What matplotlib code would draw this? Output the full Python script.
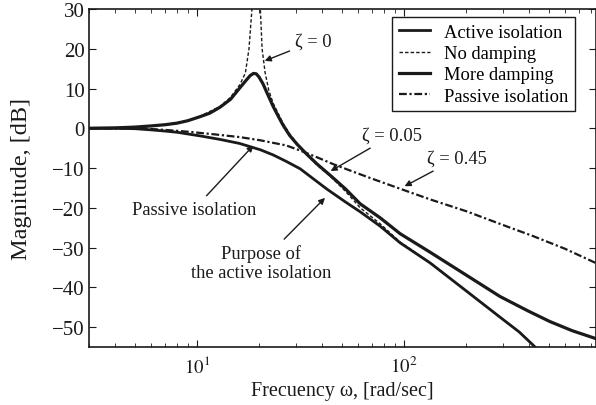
#!/usr/bin/env python3
"""
Vibration isolation transmissibility - magnitude vs frequency
"""

import matplotlib
matplotlib.use('Agg')
import matplotlib.pyplot as plt
from matplotlib.ticker import FixedLocator, NullFormatter

# Values (rad/sec, dB)
freq_active = [3, 4, 5, 6, 7, 8, 9.2, 10.3, 12.9, 16.0, 20.2, 23.3, 26.9, 31.5, 36, 42.4, 52, 61.4,
               76.6, 95.7, 134, 201, 291, 360, 420, 450]
mag_active = [0, 0, -0.1, -0.4, -0.7, -1.0, -1.5, -1.9, -2.8, -3.8, -5.4, -6.7, -8.3, -10.2, -12.5, -15.3,
              -18.5, -21.0, -24.6, -28.8, -33.9, -41.0, -47.5, -51.2, -54.5, -56.0]

freq_nodamp = [3, 5, 7, 9, 10.3, 12.9, 14.5, 16.1, 17.1, 17.8, 18.4, 19.1, 20.2, 20.6, 21.3, 22.2, 23.3,
               24.5, 26.0, 28.0, 30.4, 34, 38.0, 43.9, 52, 61.4, 76.6, 95.7, 134, 201, 291, 360, 420, 450]
mag_nodamp = [0, 0.3, 0.9, 1.9, 3.0, 5.5, 7.8, 11.0, 13.9, 20.0, 30.0, 45.0, 30.0, 20.0, 14.0, 9.5, 6.3,
              4.0, 1.3, -1.4, -3.8, -6.6, -9.3, -12.0, -15.8, -20.0, -24.0, -28.6, -33.8, -41.0, -47.5, -51.2,
              -54.5, -56.0]

freq_z005 = [3, 4, 5, 6, 7, 8, 9, 10.3, 11.5, 12.9, 14.5, 16.1, 17.2, 18.0, 18.7, 19.3, 19.9, 20.8, 21.8,
             23.3, 24.5, 26.0, 28, 30.4, 34, 38.0, 43.9, 52, 61.4, 76.6, 95.7, 134, 201, 291, 400, 507, 650, 847]
mag_z005 = [0, 0.1, 0.3, 0.6, 0.9, 1.3, 1.9, 2.9, 3.8, 5.3, 7.3, 10.2, 12.0, 13.2, 13.8, 13.7, 12.9, 11.2, 8.8,
            5.5, 3.3, 0.8, -1.8, -4.0, -6.6, -9.0, -11.8, -15.2, -19.0, -22.5, -26.5, -31.2, -37.0, -42.3,
            -46.0, -48.6, -50.9, -52.9]

freq_z045 = [3, 5.7, 7.4, 9.2, 12, 16.0, 20.1, 26.9, 31.5, 38, 45.4, 56, 68.6, 95.7, 134, 201, 300, 420,
             600, 847]
mag_z045 = [0, -0.1, -0.5, -0.9, -1.5, -2.2, -3.0, -4.3, -5.6, -7.3, -9.0, -10.8, -12.5, -15.2, -17.9,
            -20.9, -24.3, -27.1, -30.3, -33.9]

legend_labels = ['Active isolation', 'No damping', 'More damping', 'Passive isolation']
y_ticks = [30, 20, 10, 0, -10, -20, -30, -40, -50]

plt.rcParams['font.family'] = ['Liberation Serif', 'DejaVu Serif']
plt.rcParams['mathtext.fontset'] = 'stix'

ink = '#1a1a1a'
fs = 13.3

fig = plt.figure(figsize=(5.96, 4.06), dpi=100)
ax = fig.add_axes([89 / 596, 58 / 406, 507 / 596, 338 / 406])

ax.plot(freq_active, mag_active, color=ink, linewidth=2.0, label=legend_labels[0])
ax.plot(freq_nodamp, mag_nodamp, color=ink, linewidth=1.0, dashes=(2.5, 1.5), label=legend_labels[1])
ax.plot(freq_z005, mag_z005, color=ink, linewidth=2.3, label=legend_labels[2])
ax.plot(freq_z045, mag_z045, color=ink, linewidth=1.6, dashes=(3.5, 1.2, 1.0, 1.2), label=legend_labels[3])

ax.set_xscale('log')
ax.set_xlim(3, 847)
ax.set_ylim(-55, 30)

ax.xaxis.set_major_locator(FixedLocator([10, 100]))
ax.set_xticklabels(['$10^1$', '$10^2$'])
minors = [m * d for d in (1, 10, 100) for m in range(2, 10) if 3 <= m * d <= 847]
ax.xaxis.set_minor_locator(FixedLocator(minors))
ax.xaxis.set_minor_formatter(NullFormatter())
ax.set_yticks(y_ticks)
ax.set_yticklabels([str(v).replace('-', '\u2212') for v in y_ticks])

ax.tick_params(which='both', direction='in', top=True, right=True, colors=ink)
ax.tick_params(axis='x', labelsize=13.5, pad=6)
ax.tick_params(axis='y', labelsize=15, pad=3)
ax.tick_params(which='major', length=5)
ax.tick_params(which='minor', length=3)
for s in ax.spines.values():
    s.set_linewidth(1.2)
    s.set_color(ink)

ax.set_xlabel('Frecuency \u03c9, [rad/sec]', fontsize=14.5, color=ink)
ax.xaxis.set_label_coords(0.5, -0.1)
ax.set_ylabel('Magnitude, [dB]', fontsize=17.5, color=ink)
ax.yaxis.set_label_coords(-0.112, 0.5)

leg = ax.legend(loc='upper left', bbox_to_anchor=(0.598, 0.976), borderaxespad=0,
                fontsize=fs, fancybox=False, edgecolor=ink, framealpha=1,
                handlelength=1.7, handletextpad=0.75, labelspacing=0.24, borderpad=0.35)
leg.get_frame().set_linewidth(1.0)

arrow = dict(arrowstyle='-|>', color=ink, linewidth=1.0, mutation_scale=9)
ax.annotate('\u03b6 = 0', xy=(20.6, 16.7), xytext=(29.7, 21.8), fontsize=fs, color=ink,
            va='center', ha='left', arrowprops=arrow)
ax.annotate('\u03b6 = 0.05', xy=(43.0, -11.1), xytext=(62.7, -1.8), fontsize=fs, color=ink,
            va='center', ha='left', arrowprops=arrow)
ax.annotate('\u03b6 = 0.45', xy=(97.9, -14.9), xytext=(129, -7.6), fontsize=fs, color=ink,
            va='center', ha='left', arrowprops=arrow)
ax.annotate('Passive isolation', xy=(19.1, -3.8), xytext=(9.67, -20.3), fontsize=fs, color=ink,
            va='center', ha='center', arrowprops=arrow)
ax.annotate('Purpose of\nthe active isolation', xy=(42.4, -17.0), xytext=(20.4, -33.7), fontsize=fs,
            color=ink, va='center', ha='center', linespacing=1.15, arrowprops=arrow)

fig.savefig('out.png', dpi=100)
